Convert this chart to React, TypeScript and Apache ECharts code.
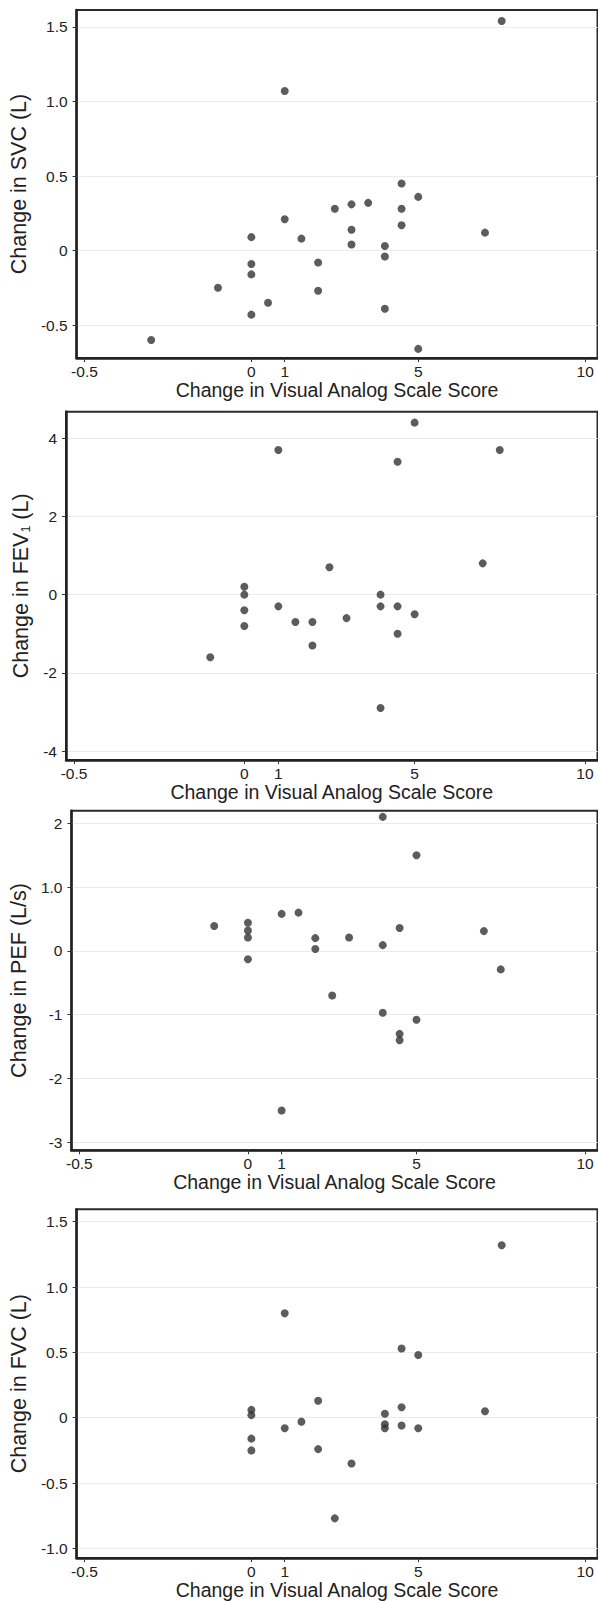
import React, { useEffect, useRef } from "react";
import * as echarts from "echarts";

// ---------- data ----------
const xTickValues = [-5, 0, 1, 5, 10];
const xTickLabels = ["-0.5", "0", "1", "5", "10"];
const xTitle = "Change in Visual Analog Scale Score";

// Panel 1: SVC
const svcX = [-3, -1, 0, 0, 0, 0, 0.5, 1, 1, 1.5, 2, 2, 2.5, 3, 3, 3, 3.5, 4, 4, 4, 4.5, 4.5, 4.5, 5, 5, 7, 7.5];
const svcY = [-0.6, -0.25, 0.09, -0.09, -0.16, -0.43, -0.35, 0.21, 1.07, 0.08, -0.08, -0.27, 0.28, 0.31, 0.14, 0.04, 0.32, 0.03, -0.04, -0.39, 0.45, 0.28, 0.17, 0.36, -0.66, 0.12, 1.54];
const svcTicks = [1.5, 1.0, 0.5, 0, -0.5];
const svcTickLabels = ["1.5", "1.0", "0.5", "0", "-0.5"];

// Panel 2: FEV1
const fevX = [-1, 0, 0, 0, 0, 1, 1, 1.5, 2, 2, 2.5, 3, 4, 4, 4, 4.5, 4.5, 4.5, 5, 5, 7, 7.5];
const fevY = [-1.6, 0.2, 0, -0.4, -0.8, 3.7, -0.3, -0.7, -0.7, -1.3, 0.7, -0.6, 0, -0.3, -2.9, 3.4, -0.3, -1.0, 4.4, -0.5, 0.8, 3.7];
const fevTicks = [4, 2, 0, -2, -4];
const fevTickLabels = ["4", "2", "0", "-2", "-4"];

// Panel 3: PEF
const pefX = [-1, 0, 0, 0, 0, 1, 1, 1.5, 2, 2, 2.5, 3, 4, 4, 4, 4.5, 4.5, 4.5, 5, 5, 7, 7.5];
const pefY = [0.39, 0.44, 0.32, 0.21, -0.13, 0.58, -2.5, 0.6, 0.2, 0.03, -0.7, 0.21, 2.1, 0.09, -0.97, 0.36, -1.3, -1.4, 1.5, -1.08, 0.31, -0.29];
const pefTicks = [2, 1, 0, -1, -2, -3];
const pefTickLabels = ["2", "1.0", "0", "-1", "-2", "-3"];

// Panel 4: FVC
const fvcX = [0, 0, 0, 0, 1, 1, 1.5, 2, 2, 2.5, 3, 4, 4, 4, 4.5, 4.5, 4.5, 5, 5, 7, 7.5];
const fvcY = [0.06, 0.02, -0.16, -0.25, 0.8, -0.08, -0.03, 0.13, -0.24, -0.77, -0.35, 0.03, -0.05, -0.08, 0.53, 0.08, -0.06, 0.48, -0.08, 0.05, 1.32];
const fvcTicks = [1.5, 1.0, 0.5, 0, -0.5, -1.0];
const fvcTickLabels = ["1.5", "1.0", "0.5", "0", "-0.5", "-1.0"];

const yTitles = ["Change in SVC (L)", "Change in FEV{sub|1} (L)", "Change in PEF (L/s)", "Change in FVC (L)"];

// ---------- layout ----------
const FONT = "'Liberation Sans', Arial, Helvetica, sans-serif";
const X_MIN = -5.235;
const X_MAX = 10.37;
const layout = [
  { top: 10, height: 348, min: -0.721, max: 1.614 },
  { top: 411.7, height: 348.3, min: -4.23, max: 4.68 },
  { top: 810.7, height: 339.6, min: -3.125, max: 2.197 },
  { top: 1209.3, height: 349.7, min: -1.074, max: 1.595 },
];

const panels = [
  { xs: svcX, ys: svcY, ticks: svcTicks, labels: svcTickLabels },
  { xs: fevX, ys: fevY, ticks: fevTicks, labels: fevTickLabels },
  { xs: pefX, ys: pefY, ticks: pefTicks, labels: pefTickLabels },
  { xs: fvcX, ys: fvcY, ticks: fvcTicks, labels: fvcTickLabels },
];

function lookup(values: number[], labels: string[], v: number): string {
  for (let i = 0; i < values.length; i++) {
    if (Math.abs(values[i] - v) < 1e-6) return labels[i];
  }
  return "";
}

export default function App() {
  const ref = useRef<HTMLDivElement>(null);

  useEffect(() => {
    if (!ref.current) return;
    const chart = echarts.init(ref.current, null, { renderer: "svg" });

    const option: any = {
      animation: false,
      backgroundColor: "#ffffff",
      grid: layout.map((l) => ({
        left: 66,
        width: 531.5,
        top: l.top,
        height: l.height,
        show: true,
        borderColor: "#2b2b2b",
        borderWidth: 2,
        backgroundColor: "transparent",
      })),
      xAxis: panels.map((p, i) => ({
        type: "value",
        gridIndex: i,
        min: X_MIN,
        max: X_MAX,
        axisLine: { show: true, onZero: false, lineStyle: { color: "#222", width: 2.5 } },
        axisTick: { show: true, customValues: xTickValues, length: 4, lineStyle: { color: "#333", width: 1 } },
        axisLabel: {
          customValues: xTickValues,
          formatter: (v: number) => lookup(xTickValues, xTickLabels, v),
          margin: 5,
          fontSize: 15.5,
          color: "#222",
          fontFamily: FONT,
        },
        splitLine: { show: false },
        name: xTitle,
        nameLocation: "middle",
        nameGap: 21,
        nameTextStyle: { fontSize: 19.5, color: "#222", fontFamily: FONT },
      })),
      yAxis: panels.map((p, i) => ({
        type: "value",
        gridIndex: i,
        min: layout[i].min,
        max: layout[i].max,
        axisLine: { show: true, onZero: false, lineStyle: { color: "#222", width: 2.5 } },
        axisTick: { show: true, customValues: p.ticks, length: 4, lineStyle: { color: "#333", width: 1 } },
        axisLabel: {
          customValues: p.ticks,
          formatter: (v: number) => lookup(p.ticks, p.labels, v),
          margin: 9,
          fontSize: 15.5,
          color: "#222",
          fontFamily: FONT,
        },
        splitLine: { show: true, lineStyle: { color: "#ebebeb", width: 1 } },
        name: yTitles[i],
        nameLocation: "middle",
        nameGap: 34,
        nameTextStyle: {
          fontSize: 21.5,
          color: "#222",
          fontFamily: FONT,
          rich: {
            sub: { fontSize: 12.5, color: "#222", fontFamily: FONT, verticalAlign: "bottom", padding: [8, 0, 0, 0] },
          },
        },
      })),
      series: panels.map((p, i) => ({
        type: "scatter",
        xAxisIndex: i,
        yAxisIndex: i,
        symbol: "circle",
        symbolSize: 8,
        itemStyle: { color: "#333" },
        data: p.xs.map((x, j) => [x, p.ys[j]]),
      })),
    };

    chart.setOption(option);
    return () => chart.dispose();
  }, []);

  return (
    <div
      ref={ref}
      style={{ position: "absolute", left: 0, top: 0, width: 598, height: 1601, background: "#fff" }}
    />
  );
}
